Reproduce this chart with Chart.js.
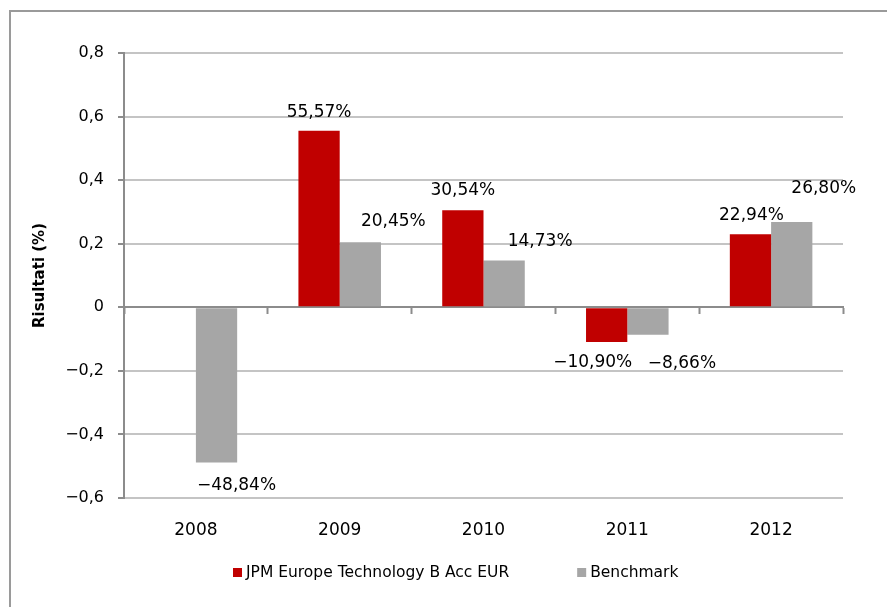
<!DOCTYPE html>
<html lang="it">
<head>
<meta charset="utf-8">
<title>Risultati annui</title>
<script src="https://cdn.jsdelivr.net/npm/chart.js@4/dist/chart.umd.min.js"></script>
<style>
  html, body { margin: 0; padding: 0; background: #fff; overflow: hidden; }
  canvas { display: block; }
</style>
</head>
<body>
<canvas id="chart" width="887" height="607"></canvas>
<script>
// Anni e rendimenti annui (frazioni: 0,5557 = 55,57%)
const years = ['2008', '2009', '2010', '2011', '2012'];
const fundName = 'JPM Europe Technology B Acc EUR';
const benchName = 'Benchmark';
const fundReturns = [null, 0.5557, 0.3054, -0.1090, 0.2294];
const benchReturns = [-0.4884, 0.2045, 0.1473, -0.0866, 0.2680];
const yTicks = [-0.6, -0.4, -0.2, 0, 0.2, 0.4, 0.6, 0.8];

// Spostamento delle etichette rispetto all'estremità della barra (px)
const labelShift = [
  [null, [0, -18], [0, -20], [-14, 21], [1, -19]],
  [[20, 23], [33, -21], [36, -19], [34, 29], [32, -34]]
];

const FONT = "'DejaVu Sans', Verdana, sans-serif";
const RED = '#C00000';
const GREY = '#A6A6A6';
const AXIS = '#8c8c8c';
const GRID = '#c4c4c4';

function itNumber(v, digits) {
  const s = Math.abs(v).toFixed(digits).replace('.', ',');
  return (v < 0 ? '\u2212' : '') + s;
}

// Cornice del grafico (lati superiore e sinistro)
const frame = {
  id: 'frame',
  beforeDraw(chart) {
    const ctx = chart.ctx;
    ctx.save();
    ctx.strokeStyle = '#9a9a9a';
    ctx.lineWidth = 2;
    ctx.beginPath();
    ctx.moveTo(10, chart.height);
    ctx.lineTo(10, 11);
    ctx.lineTo(chart.width, 11);
    ctx.stroke();
    ctx.restore();
  }
};

// Etichette con il valore percentuale
const valueLabels = {
  id: 'valueLabels',
  afterDatasetsDraw(chart) {
    const ctx = chart.ctx;
    ctx.save();
    ctx.font = '17px ' + FONT;
    ctx.fillStyle = '#000';
    ctx.textAlign = 'center';
    ctx.textBaseline = 'middle';
    chart.data.datasets.forEach((ds, di) => {
      const meta = chart.getDatasetMeta(di);
      meta.data.forEach((bar, i) => {
        const v = ds.data[i];
        if (v === null || v === undefined) return;
        const sh = labelShift[di][i] || [0, v >= 0 ? -20 : 22];
        const txt = itNumber(v * 100, 2) + '%';
        ctx.fillText(txt, bar.x + sh[0], bar.y + sh[1]);
      });
    });
    ctx.restore();
  }
};

// Legenda in basso
const bottomLegend = {
  id: 'bottomLegend',
  afterDraw(chart) {
    const ctx = chart.ctx;
    ctx.save();
    ctx.font = '15.5px ' + FONT;
    ctx.textBaseline = 'middle';
    ctx.textAlign = 'left';
    let x = 233;
    const y = 573;
    chart.data.datasets.forEach((ds) => {
      ctx.fillStyle = ds.backgroundColor;
      ctx.fillRect(x, y - 5, 9, 9);
      ctx.fillStyle = '#000';
      ctx.fillText(ds.label, x + 13, y);
      x += 13 + ctx.measureText(ds.label).width + 68;
    });
    ctx.restore();
  }
};

new Chart(document.getElementById('chart'), {
  type: 'bar',
  data: {
    labels: years,
    datasets: [
      { label: fundName, data: fundReturns, backgroundColor: RED, xAxisID: 'x', yAxisID: 'y' },
      { label: benchName, data: benchReturns, backgroundColor: GREY, xAxisID: 'x', yAxisID: 'y' }
    ]
  },
  options: {
    responsive: false,
    animation: false,
    devicePixelRatio: 1,
    categoryPercentage: 0.574,
    barPercentage: 1.0,
    layout: { padding: { top: 53, right: 44, left: 0, bottom: 0 } },
    plugins: {
      legend: { display: false },
      tooltip: { enabled: false }
    },
    scales: {
      y: {
        position: 'left',
        min: -0.6,
        max: 0.8,
        afterBuildTicks(scale) { scale.ticks = yTicks.map(v => ({ value: v })); },
        afterFit(scale) { scale.width = 124; },
        ticks: {
          padding: 14,
          color: '#000',
          font: { family: FONT, size: 16 },
          callback: (v) => (Math.abs(v) < 1e-9 ? '0' : itNumber(v, 1))
        },
        grid: { color: GRID, lineWidth: 2, tickLength: 6, tickColor: AXIS, tickWidth: 2 },
        border: { display: true, color: AXIS, width: 2 },
        title: {
          display: true,
          text: 'Risultati (%)',
          color: '#000',
          font: { family: FONT, size: 15, weight: 'bold' },
          padding: { top: 31, bottom: 0 }
        }
      },
      x: {
        type: 'category',
        position: { y: 0 },
        offset: true,
        ticks: { display: false },
        grid: { offset: true, drawOnChartArea: false, drawTicks: true, tickLength: 6, color: AXIS, tickColor: AXIS, tickWidth: 2 },
        border: { display: true, color: AXIS, width: 2 }
      },
      x2: {
        type: 'category',
        position: 'bottom',
        labels: years,
        offset: true,
        afterFit(scale) { scale.height = 109; },
        grid: { display: false },
        border: { display: false },
        ticks: { padding: 14, color: '#000', font: { family: FONT, size: 17 }, maxRotation: 0 }
      }
    }
  },
  plugins: [frame, valueLabels, bottomLegend]
});
</script>
</body>
</html>
